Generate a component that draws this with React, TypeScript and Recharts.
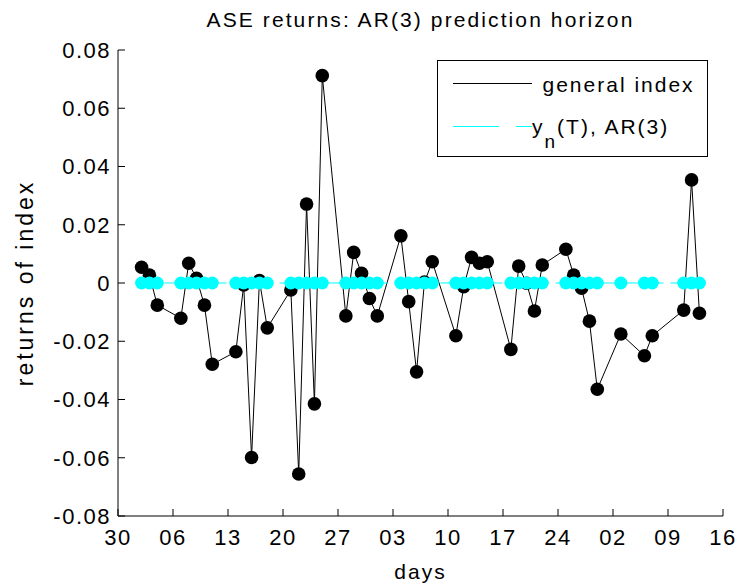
import { LineChart, Line, XAxis, YAxis } from 'recharts'

// trading sessions of the Athens exchange, Jan - Mar 2008
const tradeDates = [
  '2008-01-02', '2008-01-03', '2008-01-04',
  '2008-01-07', '2008-01-08', '2008-01-09', '2008-01-10', '2008-01-11',
  '2008-01-14', '2008-01-15', '2008-01-16', '2008-01-17', '2008-01-18',
  '2008-01-21', '2008-01-22', '2008-01-23', '2008-01-24', '2008-01-25',
  '2008-01-28', '2008-01-29', '2008-01-30', '2008-01-31', '2008-02-01',
  '2008-02-04', '2008-02-05', '2008-02-06', '2008-02-07', '2008-02-08',
  '2008-02-11', '2008-02-12', '2008-02-13', '2008-02-14', '2008-02-15',
  '2008-02-18', '2008-02-19', '2008-02-20', '2008-02-21', '2008-02-22',
  '2008-02-25', '2008-02-26', '2008-02-27', '2008-02-28', '2008-02-29',
  '2008-03-03', '2008-03-06', '2008-03-07',
  '2008-03-11', '2008-03-12', '2008-03-13',
]

// daily returns of the general index
const generalIndex = [
  0.0054, 0.0027, -0.0076,
  -0.0121, 0.0068, 0.0016, -0.0076, -0.0279,
  -0.0236, -0.0007, -0.0599, 0.0008, -0.0154,
  -0.0024, -0.0656, 0.0271, -0.0415, 0.0712,
  -0.0113, 0.0105, 0.0033, -0.0053, -0.0113,
  0.0162, -0.0064, -0.0305, 0.0003, 0.0073,
  -0.0181, -0.0013, 0.0088, 0.0068, 0.0073,
  -0.0228, 0.0058, -0.0001, -0.0096, 0.0062,
  0.0116, 0.0027, -0.0018, -0.0131, -0.0365,
  -0.0175, -0.025, -0.0181,
  -0.0093, 0.0354, -0.0104,
]

// AR(3) forecast y_n(T) over the horizon
const arForecast = [
  0, 0, 0,
  0, 0, 0, 0, 0,
  0, 0, 0, 0, 0,
  0, 0, 0, 0, 0,
  0, 0, 0, 0, 0,
  0, 0, 0, 0, 0,
  0, 0, 0, 0, 0,
  0, 0, 0, 0, 0,
  0, 0, 0, 0, 0,
  0, 0, 0,
  0, 0, 0,
]

const tickDates = [
  '2007-12-30', '2008-01-06', '2008-01-13', '2008-01-20', '2008-01-27', '2008-02-03',
  '2008-02-10', '2008-02-17', '2008-02-24', '2008-03-02', '2008-03-09', '2008-03-16',
]
const returnTicks = [-0.08, -0.06, -0.04, -0.02, 0, 0.02, 0.04, 0.06, 0.08]

const seriesNames = ['general index', 'AR(3)']
const seriesColors = ['#000000', '#00ffff']

const DAY_MS = 86400000
const origin = Date.parse(tickDates[0])
const dayNum = (s: string) => (Date.parse(s) - origin) / DAY_MS

const data = tradeDates.map((d, i) => ({
  t: dayNum(d),
  ret: generalIndex[i],
  pred: arForecast[i],
}))

const xTicks = tickDates.map(dayNum)
const xLabels = new Map(tickDates.map(d => [dayNum(d), d.slice(8)]))
const xDomain = [xTicks[0], xTicks[xTicks.length - 1]]

const W = 740
const H = 587
const M = { top: 50, right: 17, bottom: 0, left: 0 }
const Y_AXIS_W = 118
const X_AXIS_H = 71
const plotCx = Y_AXIS_W + (W - Y_AXIS_W - M.right) / 2
const plotCy = M.top + (H - M.top - X_AXIS_H) / 2

const tickStyle = { fill: '#000', fontSize: 22, letterSpacing: 1.5 }
const axisStroke = { stroke: '#000', strokeWidth: 1 }

function LegendBox() {
  const x = 437.5
  const y = 60.5
  return (
    <g>
      <rect x={x} y={y} width={270} height={96} fill="#fff" stroke="#000" strokeWidth={1} />
      <line x1={453} x2={532} y1={83.5} y2={83.5} stroke={seriesColors[0]} strokeWidth={1} />
      <text x={542.5} y={92} fontSize={21} letterSpacing={2} fill="#000">
        {seriesNames[0]}
      </text>
      <line
        x1={453}
        x2={532}
        y1={126.5}
        y2={126.5}
        stroke={seriesColors[1]}
        strokeWidth={1}
        strokeDasharray="46 17"
      />
      <text x={532} y={134} fontSize={21} letterSpacing={2} fill="#000">
        y
        <tspan fontSize={19} dy={14}>n</tspan>
        <tspan fontSize={21} dy={-14}>{`(T), ${seriesNames[1]}`}</tspan>
      </text>
    </g>
  )
}

export default function App() {
  return (
    <div
      style={{
        position: 'absolute',
        left: 0,
        top: 0,
        width: W,
        height: H,
        background: '#fff',
        fontFamily: '"Liberation Sans", Arial, sans-serif',
      }}
    >
      <LineChart width={W} height={H} data={data} margin={M}>
        <XAxis
          dataKey="t"
          type="number"
          domain={xDomain}
          ticks={xTicks}
          interval={0}
          tickFormatter={v => xLabels.get(v) ?? ''}
          height={X_AXIS_H}
          tickSize={-7}
          tickMargin={20}
          axisLine={axisStroke}
          tickLine={axisStroke}
          tick={tickStyle}
          allowDataOverflow
        />
        <XAxis
          xAxisId="top"
          orientation="top"
          type="number"
          domain={xDomain}
          ticks={xTicks}
          interval={0}
          height={0}
          tickSize={-7}
          axisLine={axisStroke}
          tickLine={axisStroke}
          tick={false}
          allowDataOverflow
        />
        <YAxis
          type="number"
          domain={[-0.08, 0.08]}
          ticks={returnTicks}
          interval={0}
          tickFormatter={v => (v === 0 ? '0' : v.toFixed(2))}
          width={Y_AXIS_W}
          tickSize={-7}
          tickMargin={14}
          axisLine={axisStroke}
          tickLine={axisStroke}
          tick={tickStyle}
          allowDataOverflow
        />
        <YAxis
          yAxisId="right"
          orientation="right"
          type="number"
          domain={[-0.08, 0.08]}
          ticks={returnTicks}
          interval={0}
          width={0}
          tickSize={-7}
          axisLine={axisStroke}
          tickLine={axisStroke}
          tick={false}
          allowDataOverflow
        />
        <Line
          dataKey="ret"
          type="linear"
          stroke={seriesColors[0]}
          strokeWidth={1}
          dot={{ r: 6.8, fill: seriesColors[0], stroke: 'none' }}
          activeDot={false}
          isAnimationActive={false}
        />
        <Line
          dataKey="pred"
          type="linear"
          stroke={seriesColors[1]}
          strokeWidth={1}
          strokeDasharray="16 7"
          dot={{ r: 6.5, fill: seriesColors[1], stroke: 'none', strokeDasharray: 'none' }}
          activeDot={false}
          isAnimationActive={false}
        />
        <text x={plotCx} y={27} textAnchor="middle" fontSize={21} letterSpacing={2.1} fill="#000">
          ASE returns: AR(3) prediction horizon
        </text>
        <text x={plotCx} y={578.5} textAnchor="middle" fontSize={21} letterSpacing={2} fill="#000">
          days
        </text>
        <text
          x={33}
          y={plotCy}
          textAnchor="middle"
          fontSize={23}
          letterSpacing={3}
          fill="#000"
          transform={`rotate(-90 33 ${plotCy})`}
        >
          returns of index
        </text>
        <LegendBox />
      </LineChart>
    </div>
  )
}
